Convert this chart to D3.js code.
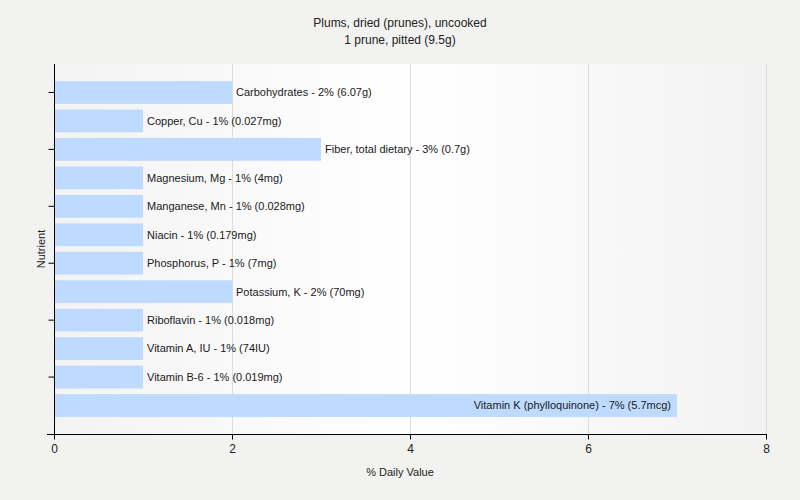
<!DOCTYPE html>
<html><head><meta charset="utf-8">
<script src="https://cdn.jsdelivr.net/npm/d3@7/dist/d3.min.js"></script>
<style>
body{margin:0;background:#f2f2f1;}
text{font-family:"Liberation Sans",Arial,sans-serif;}
</style></head>
<body><svg id="c" width="800" height="500"></svg>
<script>
const nutrients = ["Carbohydrates","Copper, Cu","Fiber, total dietary","Magnesium, Mg","Manganese, Mn","Niacin","Phosphorus, P","Potassium, K","Riboflavin","Vitamin A, IU","Vitamin B-6","Vitamin K (phylloquinone)"];
const dailyValues = [2,1,3,1,1,1,1,2,1,1,1,7];
const amounts = ["6.07g","0.027mg","0.7g","4mg","0.028mg","0.179mg","7mg","70mg","0.018mg","74IU","0.019mg","5.7mcg"];
const xTicks = [0,2,4,6,8];
const titleLines = ["Plums, dried (prunes), uncooked","1 prune, pitted (9.5g)"];

const svg = d3.select("#c");
const L=54, R=766, T=64, B=434;
const x = d3.scaleLinear().domain([0,8]).range([L,R]);
const y = d3.scaleBand().domain(nutrients).range([T,B]).paddingInner(0.2).paddingOuter(0.6);

const defs = svg.append("defs");
const g = defs.append("linearGradient").attr("id","bg").attr("x1","0").attr("x2","1").attr("y1","0").attr("y2","0");
g.append("stop").attr("offset","0").attr("stop-color","#f3f3f3");
g.append("stop").attr("offset","0.5").attr("stop-color","#ffffff");
g.append("stop").attr("offset","1").attr("stop-color","#f2f2f2");

svg.append("rect").attr("x",L).attr("y",T).attr("width",R-L).attr("height",B-T).attr("fill","url(#bg)");

svg.selectAll("line.grid").data(xTicks.filter(d=>d>0)).join("line").attr("class","grid")
  .attr("x1",d=>x(d)+0.5).attr("x2",d=>x(d)+0.5).attr("y1",T).attr("y2",B)
  .attr("stroke","#dcdcdc").attr("stroke-width",1);

svg.selectAll("rect.bar").data(nutrients).join("rect").attr("class","bar")
  .attr("x",x(0)+1).attr("y",d=>y(d)).attr("height",y.bandwidth())
  .attr("width",(d,i)=>x(dailyValues[i])-x(0)-1).attr("fill","#bedaff");

svg.selectAll("text.lbl").data(nutrients).join("text").attr("class","lbl")
  .attr("x",(d,i)=>dailyValues[i]>=6 ? x(dailyValues[i])-6 : x(dailyValues[i])+4)
  .attr("text-anchor",(d,i)=>dailyValues[i]>=6 ? "end" : "start")
  .attr("y",d=>y(d)+y.bandwidth()/2).attr("dy","0.35em")
  .attr("font-size","11px").attr("fill","#1a1a1a")
  .text((d,i)=>`${d} - ${dailyValues[i]}% (${amounts[i]})`);

// axes
const xa = svg.append("g").attr("transform",`translate(0,${B+0.5})`)
  .call(d3.axisBottom(x).tickValues(xTicks).tickSize(5).tickFormat(d3.format("d")));
xa.select(".domain").remove();
xa.append("line").attr("x1",L-7).attr("x2",R+1).attr("stroke","#000");
xa.selectAll(".tick line").attr("stroke","#000");
xa.selectAll(".tick text").attr("font-size","12px").attr("fill","#222").attr("dy","0.9em").style("font-family","'Liberation Sans',Arial,sans-serif");

const ya = svg.append("g").attr("transform",`translate(${L+0.5},0)`)
  .call(d3.axisLeft(y).tickValues(nutrients.filter((d,i)=>i%2===0)).tickSize(6).tickFormat(""));
ya.select(".domain").attr("d",`M0,${T}V${B}`).attr("stroke","#000");
ya.selectAll(".tick line").attr("stroke","#000");

svg.append("text").attr("x",400).attr("y",476).attr("text-anchor","middle").attr("font-size","11px").attr("fill","#222").text("% Daily Value");
svg.append("text").attr("transform","translate(45,249) rotate(-90)").attr("text-anchor","middle").attr("font-size","11px").attr("fill","#222").text("Nutrient");

svg.selectAll("text.title").data(titleLines).join("text").attr("class","title")
  .attr("x",400).attr("y",(d,i)=>27+i*17).attr("text-anchor","middle").attr("font-size","12px").attr("fill","#222").text(d=>d);
</script></body></html>
